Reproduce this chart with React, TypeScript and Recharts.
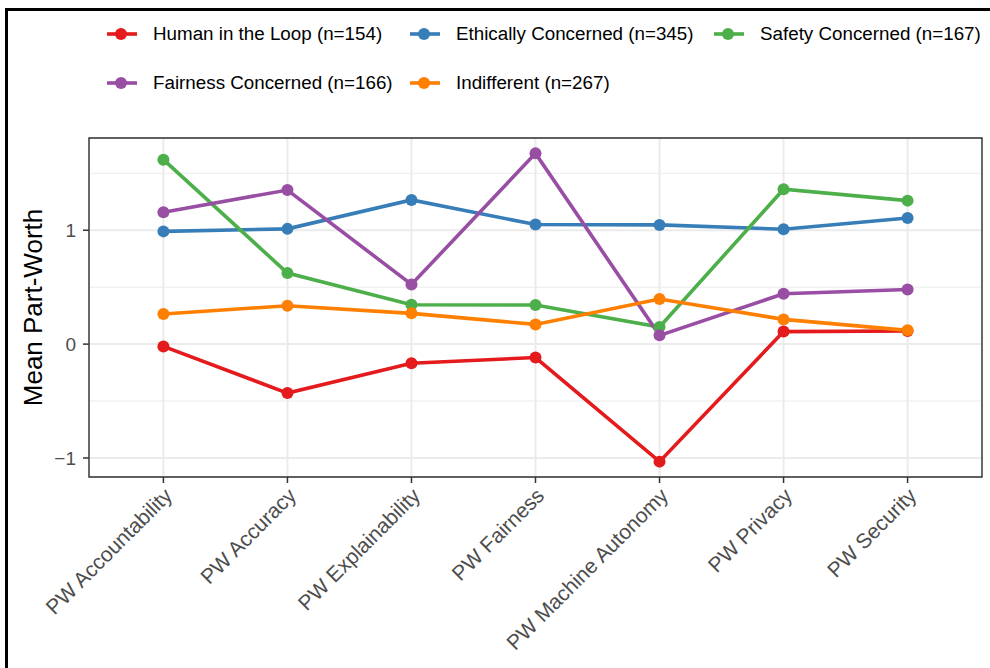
import { CartesianGrid, Line, LineChart, ReferenceArea, XAxis, YAxis } from "recharts";

const categories = [
  "PW Accountability",
  "PW Accuracy",
  "PW Explainability",
  "PW Fairness",
  "PW Machine Autonomy",
  "PW Privacy",
  "PW Security",
];

const humanInLoop = [-0.02, -0.43, -0.168, -0.118, -1.032, 0.11, 0.115];
const ethicallyConcerned = [0.99, 1.012, 1.266, 1.05, 1.047, 1.009, 1.108];
const safetyConcerned = [1.62, 0.624, 0.346, 0.343, 0.15, 1.36, 1.26];
const fairnessConcerned = [1.158, 1.353, 0.524, 1.675, 0.077, 0.442, 0.48];
const indifferent = [0.265, 0.337, 0.27, 0.173, 0.396, 0.217, 0.121];

const yTicks = [-1, 0, 1];
const yMinorTicks = [-0.5, 0.5, 1.5];
const yDomain: [number, number] = [-1.167, 1.81];
const xDomain: [number, number] = [-0.6, 6.6];

type Series = { key: string; label: string; color: string; values: number[] };

// drawing order follows the factor order in the original
const series: Series[] = [
  { key: "human", label: "Human in the Loop (n=154)", color: "#E41A1C", values: humanInLoop },
  { key: "ethical", label: "Ethically Concerned (n=345)", color: "#377EB8", values: ethicallyConcerned },
  { key: "safety", label: "Safety Concerned (n=167)", color: "#4DAF4A", values: safetyConcerned },
  { key: "fairness", label: "Fairness Concerned (n=166)", color: "#984EA3", values: fairnessConcerned },
  { key: "indifferent", label: "Indifferent (n=267)", color: "#FF7F00", values: indifferent },
];

const data = categories.map((name, idx) => {
  const row: Record<string, number | string> = { idx, name };
  series.forEach((s) => {
    row[s.key] = s.values[idx];
  });
  return row;
});

const FONT = '"Liberation Sans", Arial, Helvetica, sans-serif';

const formatY = (v: number) => (v < 0 ? `\u2212${Math.abs(v)}` : `${v}`);

const XTick = (props: any) => {
  const { x, y, payload } = props;
  const bx = x + 10;
  const by = y + 12;
  return (
    <text
      x={bx}
      y={by}
      transform={`rotate(-45 ${bx} ${by})`}
      textAnchor="end"
      fontSize={21}
      fontFamily={FONT}
      fill="#4d4d4d"
    >
      {categories[payload.value]}
    </text>
  );
};

const YTitle = (props: any) => {
  const vb = props.viewBox || { y: 138, height: 339 };
  const cx = 33;
  const cy = vb.y + vb.height / 2;
  return (
    <text
      x={cx}
      y={cy}
      transform={`rotate(-90 ${cx} ${cy})`}
      textAnchor="middle"
      dominantBaseline="central"
      fontSize={26}
      fontFamily={FONT}
      fill="#000"
    >
      Mean Part-Worth
    </text>
  );
};

function LegendBox() {
  return (
    <div
      style={{
        position: "absolute",
        left: 107,
        top: 22,
        display: "grid",
        gridTemplateColumns: "303px 304px auto",
        rowGap: 25,
        fontFamily: FONT,
        fontSize: 18.8,
        color: "#000",
      }}
    >
      {series.map((s) => (
        <div key={s.key} style={{ display: "flex", alignItems: "center", height: 24 }}>
          <svg width={30} height={24} style={{ marginRight: 16, flex: "none" }}>
            <line x1={0} y1={12} x2={30} y2={12} stroke={s.color} strokeWidth={3.6} />
            <circle cx={14} cy={12} r={6} fill={s.color} />
          </svg>
          <span style={{ whiteSpace: "nowrap" }}>{s.label}</span>
        </div>
      ))}
    </div>
  );
}

export default function App() {
  return (
    <div
      style={{
        position: "absolute",
        left: 0,
        top: 0,
        width: 990,
        height: 668,
        overflow: "hidden",
        background: "#fff",
      }}
    >
      <div
        style={{
          position: "absolute",
          left: 5,
          top: 8,
          width: 1100,
          height: 800,
          borderTop: "3px solid #000",
          borderLeft: "3px solid #000",
        }}
      />
      <LegendBox />
      <div style={{ position: "absolute", left: 0, top: 0 }}>
        <LineChart width={990} height={668} data={data} margin={{ top: 138, right: 8, left: 0, bottom: 0 }}>
          <CartesianGrid
            vertical={false}
            horizontalValues={yMinorTicks}
            stroke="#ebebeb"
            strokeWidth={1}
          />
          <CartesianGrid stroke="#ebebeb" strokeWidth={2} />
          <XAxis
            type="number"
            dataKey="idx"
            domain={xDomain}
            ticks={[0, 1, 2, 3, 4, 5, 6]}
            interval={0}
            allowDataOverflow
            height={191}
            axisLine={false}
            tickSize={6}
            tickMargin={2}
            tickLine={{ stroke: "#333", strokeWidth: 1.5 }}
            tick={<XTick />}
          />
          <YAxis
            type="number"
            domain={yDomain}
            ticks={yTicks}
            allowDataOverflow
            width={89}
            axisLine={false}
            tickSize={6}
            tickMargin={7}
            tickLine={{ stroke: "#333", strokeWidth: 1.5 }}
            tickFormatter={formatY}
            tick={{ fontSize: 19, fill: "#4d4d4d", fontFamily: FONT }}
            label={<YTitle />}
          />
          {series.map((s) => (
            <Line
              key={`line-${s.key}`}
              type="linear"
              dataKey={s.key}
              stroke={s.color}
              strokeWidth={3.6}
              dot={false}
              activeDot={false}
              isAnimationActive={false}
            />
          ))}
          {series.map((s) => (
            <Line
              key={`pt-${s.key}`}
              type="linear"
              dataKey={s.key}
              stroke="none"
              strokeWidth={0}
              dot={{ r: 6, fill: s.color, stroke: s.color, strokeWidth: 0 }}
              activeDot={false}
              isAnimationActive={false}
            />
          ))}
          <ReferenceArea
            x1={xDomain[0]}
            x2={xDomain[1]}
            y1={yDomain[0]}
            y2={yDomain[1]}
            fill="none"
            stroke="#333"
            strokeWidth={1.4}
            ifOverflow="visible"
          />
        </LineChart>
      </div>
    </div>
  );
}
